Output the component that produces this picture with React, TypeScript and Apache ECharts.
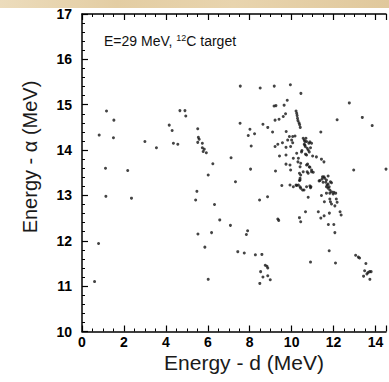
import React, { useEffect, useRef } from "react";
import * as echarts from "echarts";

const xTicks = [0, 2, 4, 6, 8, 10, 12, 14];
const yTicks = [10, 11, 12, 13, 14, 15, 16, 17];

const leftGroup: number[][] = [
  [0.6, 11.1], [0.79, 11.94], [0.82, 14.33], [1.17, 14.86], [1.12, 13.6], [1.14, 12.98],
  [1.52, 14.66], [1.5, 14.27], [2.18, 13.55], [2.36, 12.94], [3.0, 14.19], [3.55, 14.05],
  [4.16, 14.55], [4.3, 14.43], [4.36, 14.15], [4.57, 14.13], [4.67, 14.87], [4.91, 14.87],
  [4.95, 14.75], [5.52, 14.47], [5.55, 14.28], [5.59, 14.24], [5.52, 14.17], [5.74, 14.15],
  [5.74, 14.05], [5.83, 14.02], [5.78, 13.97], [5.93, 13.94], [6.24, 13.7], [6.02, 13.45],
  [5.48, 13.09], [5.42, 12.9], [6.32, 12.8], [6.57, 12.46], [5.53, 12.15], [6.18, 12.18],
  [5.86, 11.86], [6.02, 11.15],
];

const middleGroup: number[][] = [
  [7.08, 12.34], [7.11, 13.83], [7.32, 13.3], [7.43, 11.76], [7.74, 11.73], [7.84, 12.14],
  [7.9, 12.22], [8.27, 11.69], [8.58, 11.7], [8.48, 11.06], [8.63, 11.2], [8.52, 11.32],
  [8.86, 11.23], [8.98, 11.14], [8.74, 11.46], [8.82, 11.44], [8.86, 11.4], [8.47, 12.9],
  [8.85, 12.97], [9.34, 12.48], [9.38, 12.45], [7.55, 15.41], [7.54, 14.59], [8.01, 14.46],
  [7.93, 14.32], [8.23, 14.36], [8.07, 14.09], [8.04, 13.58], [8.5, 15.37], [9.17, 15.41],
  [9.94, 15.44], [10.44, 15.25], [9.79, 15.1], [9.16, 14.97], [9.25, 14.98], [9.64, 14.99],
  [9.71, 14.8], [8.63, 14.57], [8.86, 14.5], [9.09, 14.4], [9.21, 14.66], [9.4, 14.68],
  [9.6, 14.74], [9.74, 14.41], [9.53, 13.22],
];

const mainLocus: number[][] = [
  [10.21, 14.86], [10.24, 14.81], [10.26, 14.76], [10.28, 14.7], [10.3, 14.65], [10.35, 14.6],
  [10.38, 14.56], [10.41, 14.5], [9.89, 14.3], [10.05, 14.3], [10.16, 14.31], [9.81, 14.22],
  [10.0, 14.22], [9.56, 14.16], [9.34, 14.13], [10.55, 14.26], [10.6, 14.22], [10.63, 14.19],
  [10.71, 14.19], [10.87, 14.18], [10.05, 14.16], [10.68, 14.26], [10.6, 14.13], [10.82, 14.15],
  [10.65, 14.08], [10.9, 14.05], [10.79, 14.0], [10.49, 13.99], [10.24, 13.93], [10.66, 13.91],
  [11.0, 13.87], [11.18, 13.85], [11.42, 13.8], [11.54, 13.74], [10.3, 13.74], [10.4, 13.63],
  [10.76, 13.69], [10.84, 13.63], [10.95, 13.56], [10.74, 13.52], [11.03, 13.51], [10.43, 13.45],
  [10.4, 13.34], [11.47, 13.41], [11.58, 13.38], [11.66, 13.34], [11.31, 13.32], [11.5, 13.29],
  [11.74, 13.25], [11.9, 13.28], [10.24, 13.22], [10.43, 13.16], [10.59, 13.12], [10.87, 13.21],
  [11.66, 13.19], [11.74, 13.16], [11.82, 13.12], [11.9, 13.08], [11.98, 13.03], [11.66, 13.05],
  [9.21, 14.08], [9.73, 14.06], [9.95, 14.08], [9.42, 13.87], [9.73, 13.89], [10.47, 13.96],
  [10.63, 14.11], [10.74, 14.04], [10.84, 13.96], [10.71, 13.89], [10.95, 14.15], [10.08, 13.82],
  [10.32, 13.82], [10.43, 13.71], [9.73, 13.69], [9.92, 13.67], [10.71, 13.67], [10.87, 13.62],
  [9.95, 13.56], [9.23, 13.54], [10.37, 13.49], [10.55, 13.52], [10.79, 13.49], [10.95, 13.52],
  [10.4, 13.38], [10.37, 13.33], [10.32, 13.23], [9.92, 13.23], [10.08, 13.19], [10.21, 13.23],
  [10.4, 13.19], [10.52, 13.12], [10.71, 13.19], [10.92, 13.19], [10.79, 12.96], [11.35, 13.33],
  [11.45, 13.36], [11.54, 13.41], [11.74, 13.43], [11.85, 13.3], [11.63, 13.29], [11.69, 13.23],
  [11.79, 13.19], [12.01, 13.07], [12.1, 13.05], [11.82, 13.05], [10.9, 13.17], [11.42, 13.0],
  [11.56, 12.86], [11.82, 12.92], [12.13, 12.92], [11.85, 12.86], [12.17, 12.85], [11.9, 12.81],
  [12.06, 12.77],
];

const lowerRight: number[][] = [
  [10.37, 12.51], [10.43, 12.42], [10.66, 12.64], [10.9, 11.53], [11.27, 12.64], [11.39, 12.5],
  [11.55, 12.55], [11.8, 12.61], [11.75, 12.36], [12.01, 12.36], [12.06, 12.18], [11.79, 11.78],
  [12.09, 11.51], [12.31, 12.64], [12.36, 12.57], [13.05, 11.68], [13.18, 11.64], [13.24, 11.62],
  [13.54, 11.5], [13.48, 11.34], [13.64, 11.3], [13.72, 11.32], [13.79, 11.32], [13.59, 11.27],
  [13.43, 11.22], [13.73, 11.15],
];

const isolated: number[][] = [
  [12.17, 14.67], [12.75, 15.04], [13.37, 14.72], [13.84, 14.54], [12.96, 13.56], [14.5, 13.58],
  [11.39, 14.4],
];

const X_MIN = 0, X_MAX = 14.5, Y_MIN = 10, Y_MAX = 17;

export default function App() {
  const ref = useRef<HTMLDivElement>(null);
  useEffect(() => {
    if (!ref.current) return;
    const chart = echarts.init(ref.current, null, { renderer: "svg" });
    const pts = [...leftGroup, ...middleGroup, ...mainLocus, ...lowerRight, ...isolated];
    const axisCommon = {
      axisLine: { show: true, lineStyle: { color: "#000", width: 1.5 } },
      axisTick: { show: true, inside: true, length: 6, lineStyle: { color: "#000", width: 1.2 } },
      minorTick: { show: true, length: 3, lineStyle: { color: "#000", width: 1 } },
      splitLine: { show: false },
    };
    chart.setOption({
      animation: false,
      backgroundColor: "#ffffff",
      grid: { left: 82, top: 14, width: 21.1 * (X_MAX - X_MIN), height: 317.5 },
      xAxis: [
        {
          type: "value", min: X_MIN, max: X_MAX, interval: 2, position: "bottom",
          ...axisCommon,
          minorTick: { ...axisCommon.minorTick, splitNumber: 4 },
          axisLabel: {
            color: "#000", fontSize: 14, fontWeight: "bold", fontFamily: "Liberation Sans, Arial",
            margin: 3, lineHeight: 14,
            formatter: (v: number) => (xTicks.includes(v) ? String(v) : ""),
          },
        },
        {
          type: "value", min: X_MIN, max: X_MAX, interval: 2, position: "top",
          ...axisCommon,
          minorTick: { ...axisCommon.minorTick, splitNumber: 4 },
          axisLabel: { show: false },
        },
      ],
      yAxis: [
        {
          type: "value", min: Y_MIN, max: Y_MAX, interval: 1, position: "left",
          ...axisCommon,
          minorTick: { ...axisCommon.minorTick, splitNumber: 5 },
          axisLabel: {
            color: "#000", fontSize: 14, fontWeight: "bold", fontFamily: "Liberation Sans, Arial",
            margin: 10,
            formatter: (v: number) => (yTicks.includes(v) ? String(v) : ""),
          },
        },
      ],
      series: [
        {
          type: "scatter",
          xAxisIndex: 0,
          yAxisIndex: 0,
          data: pts,
          symbol: "circle",
          symbolSize: 3,
          itemStyle: { color: "#151515" },
          silent: true,
        },
      ],
      graphic: [
        {
          type: "rect", left: 0, top: 0, z: 10,
          shape: { x: 0, y: 0, width: 389, height: 8 },
          style: {
            fill: new echarts.graphic.LinearGradient(0, 0, 1, 0, [
              { offset: 0, color: "#ecdcbc" },
              { offset: 0.3, color: "#e3cda3" },
              { offset: 0.6, color: "#e8d4ae" },
              { offset: 1, color: "#e0c89c" },
            ]),
          },
        },
        {
          type: "text", x: 104, y: 49, z: 10,
          style: {
            text: "{a|E=29 MeV, }{s|12}{a|C target}",
            textVerticalAlign: "bottom",
            rich: {
              a: { fontSize: 14, fontFamily: "Liberation Sans, Arial", fill: "#111", lineHeight: 16 },
              s: { fontSize: 9, fontFamily: "Liberation Sans, Arial", fill: "#111", lineHeight: 9, verticalAlign: "top", padding: [0, 0, 7, 0] },
            },
          },
        },
        {
          type: "text", x: 244, y: 362, z: 10,
          style: {
            text: "Energy - d (MeV)", fontSize: 21, lineHeight: 21, fontFamily: "Liberation Sans, Arial",
            fill: "#1a1a1a", textAlign: "center", textVerticalAlign: "middle",
          },
        },
        {
          type: "text", x: 30, y: 157, rotation: Math.PI / 2, z: 10,
          style: {
            text: "Energy - α (MeV)", fontSize: 20, fontFamily: "Liberation Sans, Arial",
            fill: "#1a1a1a", textAlign: "center", textVerticalAlign: "middle",
          },
        },
      ],
    });
    return () => chart.dispose();
  }, []);
  return (
    <div
      ref={ref}
      style={{ position: "fixed", left: 0, top: 0, width: 389, height: 382, background: "#fff" }}
    />
  );
}
